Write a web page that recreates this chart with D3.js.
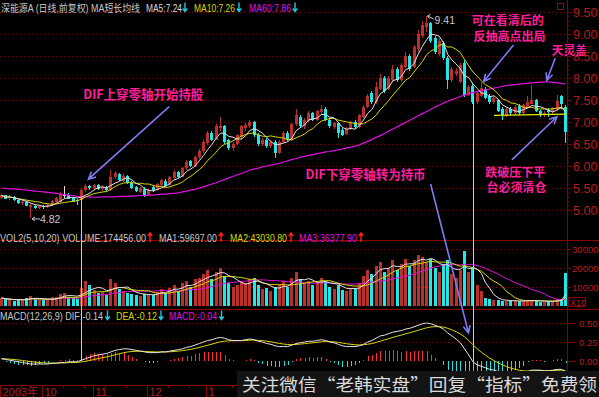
<!DOCTYPE html>
<html><head><meta charset="utf-8">
<script src="https://cdn.jsdelivr.net/npm/d3@7"></script>
<style>body{margin:0;background:#000;}svg{display:block;}</style>
</head><body>
<svg id="c" width="599" height="397"></svg>
<script>
// ---------------- DATA ----------------
const opens = [5.28,5.33,5.27,5.30,5.22,5.17,5.18,5.06,5.10,5.05,
5.09,5.06,5.12,5.19,5.18,5.33,5.35,5.27,5.22,5.22,
5.45,5.54,5.49,5.57,5.47,5.53,5.45,5.74,5.82,5.66,
5.78,5.62,5.52,5.41,5.48,5.35,5.52,5.45,5.56,5.67,
5.56,5.73,5.86,5.76,5.95,6.11,6.00,6.20,6.35,6.52,
6.76,6.60,6.86,6.90,6.58,6.40,6.50,6.66,6.86,6.90,
7.00,6.70,6.50,6.60,6.45,6.55,6.30,6.55,6.76,6.60,
6.95,7.12,6.90,7.02,7.20,7.05,7.22,7.30,7.05,6.88,
6.98,6.82,6.72,6.85,7.00,6.88,7.12,7.35,7.65,7.45,
7.75,8.00,7.75,7.95,8.20,7.95,8.25,8.50,8.25,8.65,
8.95,9.15,9.25,8.90,8.55,8.80,8.45,7.95,8.10,7.92,
8.35,7.62,7.82,7.45,7.60,7.76,7.60,7.45,7.50,7.30,
7.15,7.30,7.20,7.36,7.20,7.35,7.42,7.50,7.25,7.15,
7.28,7.22,7.30,7.58,7.35];
const highs = [5.36,5.35,5.33,5.32,5.25,5.22,5.20,5.13,5.12,5.11,
5.12,5.14,5.22,5.30,5.40,5.55,5.38,5.30,5.25,5.50,
5.60,5.57,5.60,5.59,5.56,5.55,5.90,5.88,5.85,5.82,
5.80,5.66,5.55,5.53,5.52,5.48,5.57,5.61,5.71,5.70,
5.78,5.90,5.89,5.98,6.14,6.13,6.23,6.38,6.58,6.80,
6.80,6.95,7.11,6.93,6.62,6.55,6.73,6.93,6.98,7.05,
7.02,6.74,6.64,6.64,6.58,6.58,6.58,6.80,6.79,6.98,
7.30,7.16,7.08,7.24,7.23,7.28,7.39,7.33,7.08,7.00,
7.01,6.86,6.88,7.03,7.04,7.18,7.39,7.64,7.70,7.92,
8.10,8.04,8.04,8.30,8.24,8.34,8.60,8.54,8.74,9.10,
9.30,9.41,9.28,8.95,8.90,8.84,8.50,8.25,8.22,8.34,
8.41,7.84,7.86,7.68,7.90,7.80,7.64,7.58,7.53,7.33,
7.33,7.34,7.38,7.40,7.42,7.60,7.85,7.53,7.28,7.26,
7.31,7.35,7.62,7.61,7.38];
const lows = [5.24,5.24,5.23,5.20,5.14,5.12,5.08,4.82,5.03,5.02,
5.03,5.04,5.10,5.16,5.15,5.28,5.24,5.19,5.12,5.14,
5.42,5.46,5.46,5.45,5.44,5.42,5.44,5.70,5.65,5.63,
5.60,5.48,5.40,5.38,5.30,5.33,5.42,5.43,5.53,5.52,
5.54,5.70,5.72,5.74,5.92,5.97,5.98,6.17,6.30,6.48,
6.56,6.58,6.80,6.50,6.36,6.35,6.47,6.62,6.80,6.86,
6.66,6.46,6.46,6.40,6.42,6.18,6.27,6.52,6.57,6.57,
6.92,6.86,6.84,7.00,7.02,7.02,7.18,7.02,6.86,6.84,
6.64,6.68,6.70,6.82,6.84,6.86,7.10,7.32,7.42,7.42,
7.72,7.66,7.72,7.92,7.90,7.92,8.22,8.15,8.22,8.60,
8.90,9.05,8.80,8.55,8.50,8.40,7.75,7.90,8.05,7.88,
7.57,7.58,7.40,7.42,7.56,7.52,7.42,7.42,7.22,7.05,
7.12,7.16,7.16,7.17,7.17,7.32,7.40,7.22,7.12,7.12,
7.12,7.18,7.26,7.30,6.52];
const closes = [5.33,5.26,5.30,5.22,5.16,5.19,5.10,5.11,5.05,5.09,
5.06,5.12,5.20,5.27,5.37,5.33,5.26,5.21,5.20,5.46,
5.55,5.50,5.57,5.48,5.53,5.45,5.76,5.83,5.68,5.78,
5.62,5.51,5.43,5.50,5.35,5.45,5.45,5.58,5.68,5.55,
5.75,5.86,5.75,5.95,6.10,6.00,6.20,6.35,6.55,6.76,
6.60,6.90,6.92,6.55,6.40,6.50,6.70,6.90,6.94,7.00,
6.70,6.50,6.60,6.45,6.55,6.30,6.55,6.76,6.60,6.95,
7.15,6.90,7.05,7.20,7.05,7.25,7.30,7.05,6.90,6.98,
6.75,6.70,6.85,7.00,6.88,7.15,7.35,7.60,7.45,7.80,
8.00,7.70,8.00,8.20,7.95,8.30,8.50,8.20,8.70,9.00,
9.20,9.25,8.85,8.60,8.85,8.45,7.95,8.20,8.15,8.30,
7.62,7.80,7.45,7.65,7.78,7.55,7.45,7.55,7.25,7.15,
7.30,7.20,7.35,7.20,7.38,7.45,7.50,7.25,7.15,7.20,
7.22,7.32,7.48,7.40,6.78];
const volumes = [42000,35000,30000,28000,33000,36000,40000,55000,38000,30000,29000,32000,45000,50000,62000,70000,48000,40000,38000,
95000,130000,110000,85000,70000,75000,60000,140000,120000,90000,80000,70000,65000,60000,55000,62000,58000,
60000,75000,90000,70000,95000,110000,80000,120000,130000,100000,140000,150000,170000,190000,140000,180000,200000,
160000,120000,100000,110000,130000,120000,140000,150000,110000,90000,95000,80000,100000,110000,130000,100000,150000,180000,
140000,120000,130000,110000,120000,150000,130000,100000,90000,110000,85000,80000,95000,90000,120000,160000,190000,170000,
210000,230000,180000,200000,240000,190000,220000,250000,210000,240000,270000,260000,230000,250000,200000,180000,220000,240000,
170000,150000,190000,290000,180000,200000,110000,80000,
40000,35000,30000,32000,28000,27000,26000,25000,27000,27250,
30000,32000,25000,22000,22823,
24000,28000,35000,37029,174456];
const ma60 = [5.50,5.49,5.48,5.48,5.47,5.46,5.45,5.44,5.43,5.42,
5.41,5.40,5.39,5.38,5.36,5.35,5.34,5.33,5.31,5.30,
5.30,5.30,5.29,5.29,5.30,5.30,5.30,5.30,5.31,5.31,
5.31,5.32,5.32,5.33,5.33,5.34,5.34,5.35,5.36,5.36,
5.37,5.38,5.39,5.41,5.43,5.45,5.47,5.50,5.53,5.56,
5.59,5.62,5.66,5.69,5.73,5.76,5.80,5.83,5.87,5.91,
5.93,5.95,5.98,6.00,6.02,6.04,6.06,6.09,6.12,6.15,
6.17,6.20,6.22,6.24,6.26,6.28,6.30,6.32,6.33,6.35,
6.37,6.39,6.41,6.43,6.45,6.48,6.52,6.56,6.60,6.65,
6.69,6.74,6.79,6.84,6.89,6.94,6.99,7.04,7.09,7.14,
7.19,7.24,7.29,7.34,7.38,7.43,7.47,7.51,7.54,7.58,
7.61,7.64,7.67,7.69,7.71,7.73,7.75,7.77,7.79,7.81,
7.83,7.84,7.85,7.86,7.87,7.88,7.89,7.90,7.90,7.91,
7.91,7.90,7.89,7.88,7.86];
const dif = [0.03,0.02,0.01,0.00,-0.01,-0.02,-0.03,-0.04,-0.04,-0.04,
-0.04,-0.04,-0.03,-0.03,-0.02,-0.02,-0.01,-0.01,-0.01,0.01,
0.03,0.05,0.07,0.08,0.09,0.10,0.12,0.14,0.15,0.16,
0.16,0.15,0.14,0.13,0.12,0.11,0.11,0.11,0.12,0.12,
0.13,0.14,0.15,0.16,0.18,0.19,0.21,0.23,0.25,0.27,
0.28,0.30,0.31,0.30,0.28,0.27,0.27,0.27,0.28,0.29,
0.28,0.26,0.25,0.23,0.22,0.20,0.19,0.19,0.19,0.21,
0.23,0.24,0.25,0.26,0.26,0.27,0.28,0.27,0.25,0.24,
0.22,0.20,0.19,0.19,0.19,0.20,0.22,0.25,0.27,0.30,
0.33,0.34,0.36,0.38,0.39,0.40,0.42,0.43,0.45,0.47,
0.49,0.50,0.49,0.47,0.45,0.42,0.37,0.33,0.29,0.24,
0.16,0.08,-0.01,-0.05,-0.07,-0.09,-0.11,-0.12,-0.14,-0.16,
-0.17,-0.17,-0.17,-0.17,-0.16,-0.14,-0.12,-0.12,-0.12,-0.13,
-0.13,-0.12,-0.11,-0.11,-0.14];
const priceTicks = [5.00,5.50,6.00,6.50,7.00,7.50,8.00,8.50,9.00,9.50];
const volTicks = [10000,20000,30000];
const macdTicks = [0.00,0.25,0.50];
const monthLabels = ["2003年","10","11","12","1"];
const monthStarts = [0,10,22,35,49];
const peakLabel = {i:101, p:9.41, text:"9.41"};
const lowLabel = {i:7, p:4.82, text:"4.82"};
const crossLines = [{i:19, topP:5.27}, {i:112, topP:7.58}];
const supportLine = {i0:117, p0:7.15, i1:134.6, p1:7.18};

// ---------------- LAYOUT ----------------
const W = 599, H = 397, AX = 567;
const RED_AX = "#8a0000", RED_TXT = "#b81c1c";
const UP = "#bc302c", DOWN = "#20e8e8";
const C_MA5 = "#e4e4e4", C_MA10 = "#d8d800", C_MA60 = "#e010e0";
const FONT = "'Liberation Sans', Arial, 'Noto Sans CJK SC', sans-serif";
const CJK = "'Noto Sans CJK SC', 'Liberation Sans', sans-serif";
const N = closes.length;

const svg = d3.select("#c");
svg.append("rect").attr("width", W).attr("height", H).attr("fill", "#000");

const x = d3.scaleBand().domain(d3.range(N)).range([0, AX]).paddingInner(0.3).paddingOuter(0);
const bw = x.bandwidth();
const cx = i => x(i) + bw / 2;
const xf = t => x(0) + x.step() * t + bw / 2;
const yP = d3.scaleLinear().domain([5, 9.5]).range([210, 12]);
const yV = d3.scaleLinear().domain([0, 30000]).range([306, 249]);
const yM = d3.scaleLinear().domain([0, 0.5]).range([361, 323]);

const data = d3.range(N).map(i => ({i, o: opens[i], h: highs[i], l: lows[i], c: closes[i], v: volumes[i]}));
const colorOf = d => d.c > d.o ? UP : (d.c < d.o ? DOWN : "#e0e0e0");

function sma(arr, n) {
  return arr.map((_, i) => d3.mean(arr.slice(Math.max(0, i - n + 1), i + 1)));
}
const ma5 = sma(closes, 5), ma10 = sma(closes, 10);
const vma5 = sma(volumes, 5), vma10 = sma(volumes, 10), vma20 = sma(volumes, 20);
const dea = [];
dif.forEach((d, i) => dea.push(i === 0 ? d : dea[i - 1] * 0.8 + d * 0.2));
const hist = dif.map((d, i) => 2 * (d - dea[i]));

// ---------------- GRID ----------------
const grid = svg.append("g").attr("stroke", "#7a0000").attr("stroke-dasharray", "1,3").attr("shape-rendering", "crispEdges");
priceTicks.forEach(t => grid.append("line").attr("x1", 0).attr("x2", AX).attr("y1", Math.round(yP(t)) + 0.5).attr("y2", Math.round(yP(t)) + 0.5));
volTicks.forEach(t => grid.append("line").attr("x1", 0).attr("x2", AX).attr("y1", Math.round(yV(t)) + 0.5).attr("y2", Math.round(yV(t)) + 0.5));
macdTicks.filter(t => t > 0).forEach(t => grid.append("line").attr("x1", 0).attr("x2", AX).attr("y1", Math.round(yM(t)) + 0.5).attr("y2", Math.round(yM(t)) + 0.5));

const sep = svg.append("g").attr("stroke", RED_AX).attr("shape-rendering", "crispEdges");
sep.append("line").attr("x1", 0).attr("x2", W).attr("y1", 240.5).attr("y2", 240.5);
sep.append("line").attr("x1", 0).attr("x2", W).attr("y1", 309.5).attr("y2", 309.5);

// ---------------- CANDLES ----------------
const cg = svg.append("g").attr("shape-rendering", "crispEdges");
cg.selectAll("line.w").data(data).join("line")
  .attr("x1", d => Math.round(x(d.i)) + 1.5).attr("x2", d => Math.round(x(d.i)) + 1.5)
  .attr("y1", d => yP(d.h)).attr("y2", d => yP(d.l)).attr("stroke", colorOf);
cg.selectAll("rect.b").data(data).join("rect")
  .attr("x", d => Math.round(x(d.i))).attr("width", 3)
  .attr("y", d => yP(Math.max(d.o, d.c)))
  .attr("height", d => Math.max(1, Math.abs(yP(d.o) - yP(d.c))))
  .attr("fill", colorOf);

const lineP = d3.line().x((d, i) => cx(i)).y(d => yP(d));
svg.append("path").attr("d", lineP(ma60)).attr("fill", "none").attr("stroke", C_MA60).attr("stroke-width", 1.2);
svg.append("path").attr("d", lineP(ma10)).attr("fill", "none").attr("stroke", C_MA10).attr("stroke-width", 1);
svg.append("path").attr("d", lineP(ma5)).attr("fill", "none").attr("stroke", C_MA5).attr("stroke-width", 1);

// ---------------- VOLUME ----------------
const vg = svg.append("g").attr("shape-rendering", "crispEdges");
vg.selectAll("rect").data(data).join("rect")
  .attr("x", d => Math.round(x(d.i))).attr("width", 3)
  .attr("y", d => yV(d.v / 10)).attr("height", d => yV(0) - yV(d.v / 10))
  .attr("fill", d => d.c >= d.o ? UP : DOWN);
const lineV = d3.line().x((d, i) => cx(i)).y(d => yV(d / 10));
svg.append("path").attr("d", lineV(vma20)).attr("fill", "none").attr("stroke", C_MA60);
svg.append("path").attr("d", lineV(vma10)).attr("fill", "none").attr("stroke", C_MA10);
svg.append("path").attr("d", lineV(vma5)).attr("fill", "none").attr("stroke", C_MA5);

// ---------------- MACD ----------------
const mg = svg.append("g").attr("shape-rendering", "crispEdges");
mg.selectAll("line").data(hist).join("line")
  .attr("x1", (d, i) => Math.round(cx(i)) + 0.5).attr("x2", (d, i) => Math.round(cx(i)) + 0.5)
  .attr("y1", yM(0)).attr("y2", d => yM(d))
  .attr("stroke", d => d >= 0 ? "#ff3030" : "#20e0e0");
const lineM = d3.line().x((d, i) => cx(i)).y(d => yM(d));
svg.append("path").attr("d", lineM(dea)).attr("fill", "none").attr("stroke", C_MA10);
svg.append("path").attr("d", lineM(dif)).attr("fill", "none").attr("stroke", C_MA5);

// ---------------- ANNOTATIONS ----------------
crossLines.forEach(c => {
  svg.append("line").attr("x1", Math.round(cx(c.i)) + 0.5).attr("x2", Math.round(cx(c.i)) + 0.5)
    .attr("y1", yP(c.topP)).attr("y2", yM(0)).attr("stroke", "#e8e800").attr("stroke-width", 1);
});
svg.append("line").attr("x1", xf(supportLine.i0)).attr("x2", xf(supportLine.i1))
  .attr("y1", yP(supportLine.p0)).attr("y2", yP(supportLine.p1)).attr("stroke", "#e8e800").attr("stroke-width", 1.2);

{
  const px = cx(peakLabel.i), py = yP(peakLabel.p);
  svg.append("path").attr("d", `M${px + 7},${py + 3} L${px + 1},${py} M${px + 1},${py} l3,-1.5 M${px + 1},${py} l2,2.5`)
    .attr("stroke", "#c8c8c8").attr("fill", "none");
  svg.append("text").attr("x", px + 8).attr("y", py + 8).text(peakLabel.text)
    .attr("fill", "#c8c8c8").attr("font-size", 10.5).attr("font-family", FONT);
  const lx = cx(lowLabel.i), ly = yP(lowLabel.p) + 1;
  svg.append("path").attr("d", `M${lx + 9},${ly} L${lx + 1},${ly} M${lx + 1},${ly} l3,-2 M${lx + 1},${ly} l3,2`)
    .attr("stroke", "#c8c8c8").attr("fill", "none");
  svg.append("text").attr("x", lx + 9).attr("y", ly + 4.5).text(lowLabel.text)
    .attr("fill", "#c8c8c8").attr("font-size", 10.5).attr("font-family", FONT);
}

const notes = [
  {text: "DIF上穿零轴开始持股", i: 19.8, p: 7.52, w: 120, fs: 13},
  {text: "DIF下穿零轴转为持币", i: 72.6, p: 5.70, w: 120, fs: 13},
  {text: "可在看清后的", i: 112.1, p: 9.20, w: 72, fs: 12},
  {text: "反抽高点出局", i: 112.5, p: 8.84, w: 72, fs: 12},
  {text: "天灵盖", i: 131.1, p: 8.53, w: 35, fs: 12},
  {text: "跌破压下平", i: 115.3, p: 5.76, w: 60, fs: 12},
  {text: "台必须清仓", i: 115.6, p: 5.40, w: 60, fs: 12}
];
notes.forEach(n => {
  svg.append("text").attr("x", xf(n.i) - bw / 2).attr("y", yP(n.p)).text(n.text)
    .attr("fill", "#ff1f9a").attr("font-size", n.fs).attr("font-weight", "bold").attr("font-family", CJK)
    .attr("textLength", n.w).attr("lengthAdjust", "spacingAndGlyphs");
});

const arrows = [
  {from: {i: 40.2, p: 7.35}, to: {i: 21.0, p: 5.70}},
  {from: {i: 102.3, p: 5.59}, to: {i: 111.3, m: 0.37}},
  {from: {i: 122.0, p: 8.75}, to: {i: 114.9, p: 7.92}},
  {from: {i: 131.9, p: 8.45}, to: {i: 129.9, p: 7.95}},
  {from: {i: 121.6, p: 6.14}, to: {i: 132.3, p: 7.12}}
];
const pt = d => [xf(d.i) - bw / 2, d.p != null ? yP(d.p) : yM(d.m)];
arrows.forEach(a => {
  const [x1, y1] = pt(a.from), [x2, y2] = pt(a.to);
  const ang = Math.atan2(y2 - y1, x2 - x1), L = 8, s = 0.45;
  svg.append("path")
    .attr("d", `M${x1},${y1} L${x2},${y2} M${x2 - L * Math.cos(ang - s)},${y2 - L * Math.sin(ang - s)} L${x2},${y2} L${x2 - L * Math.cos(ang + s)},${y2 - L * Math.sin(ang + s)}`)
    .attr("stroke", "#7c7cf4").attr("stroke-width", 1.6).attr("fill", "none");
});

// ---------------- AXES ----------------
svg.append("line").attr("x1", AX + 0.5).attr("x2", AX + 0.5).attr("y1", 0).attr("y2", H).attr("stroke", RED_AX);
function styleAxis(g, size) {
  g.select(".domain").remove();
  g.selectAll(".tick line").attr("stroke", RED_AX);
  g.selectAll(".tick text").attr("fill", RED_TXT).attr("font-size", size).attr("font-family", FONT);
}
const minorTicks = d3.range(50, 96).map(v => v / 10).filter(v => Math.abs(v * 2 - Math.round(v * 2)) > 0.01);
svg.append("g").attr("transform", `translate(${AX},0)`)
  .call(d3.axisRight(yP).tickValues(minorTicks).tickSize(2).tickFormat(""))
  .call(g => styleAxis(g, 0));
svg.append("g").attr("transform", `translate(${AX},0)`)
  .call(d3.axisRight(yP).tickValues(priceTicks).tickSize(4).tickPadding(2).tickFormat(d3.format(".2f")))
  .call(g => styleAxis(g, "12.5px"));
svg.append("g").attr("transform", `translate(${AX},0)`)
  .call(d3.axisRight(yV).tickValues(volTicks).tickSize(4).tickPadding(1).tickFormat(d3.format("d")))
  .call(g => styleAxis(g, "9.6px"));
svg.append("g").attr("transform", `translate(${AX},0)`)
  .call(d3.axisRight(yM).tickValues(macdTicks).tickSize(8).tickPadding(4).tickFormat(d3.format(".2f")))
  .call(g => styleAxis(g, "9.6px"));
svg.append("rect").attr("x", 568.5).attr("y", 297.5).attr("width", 17).attr("height", 9)
  .attr("fill", "none").attr("stroke", RED_AX);
svg.append("text").attr("x", 570).attr("y", 305.5).text("X10").attr("fill", RED_TXT)
  .attr("font-size", 9).attr("font-family", FONT);
svg.append("rect").attr("x", 557.5).attr("y", 3.5).attr("width", 6).attr("height", 6)
  .attr("fill", "none").attr("stroke", "#7a1010");

const bg = svg.append("g").attr("shape-rendering", "crispEdges");
bg.append("line").attr("x1", 0).attr("x2", AX).attr("y1", 385.5).attr("y2", 385.5).attr("stroke", RED_AX);
d3.range(0, N, 5).forEach(i => bg.append("line").attr("x1", Math.round(x(i)) + 0.5).attr("x2", Math.round(x(i)) + 0.5)
  .attr("y1", 385).attr("y2", 388).attr("stroke", RED_AX));
monthStarts.forEach((s, k) => {
  const xx = Math.round(x(s)) + 0.5;
  bg.append("line").attr("x1", xx).attr("x2", xx).attr("y1", 385).attr("y2", H).attr("stroke", RED_AX);
  svg.append("text").attr("x", xx + 2).attr("y", 395.5).text(monthLabels[k])
    .attr("fill", RED_TXT).attr("font-size", 11).attr("font-family", FONT);
});

// ---------------- HEADERS ----------------
function hArrow(xx, yTop, dir, color) {
  const y1 = yTop, y2 = yTop + 9;
  const head = dir === "down" ? `M${xx - 2.2},${y2 - 3} L${xx},${y2} L${xx + 2.2},${y2 - 3}` : `M${xx - 2.2},${y1 + 3} L${xx},${y1} L${xx + 2.2},${y1 + 3}`;
  svg.append("path").attr("d", `M${xx},${y1} L${xx},${y2} ${head}`).attr("stroke", color).attr("stroke-width", 1.4).attr("fill", "none");
}
const headers = [
  {y: 11.5, items: [
    {s: "深能源A (日线,前复权) MA短长均线", c: "#c8c8c8", x: 1, w: 139},
    {s: "MA5:7.24", c: "#d8d8d8", x: 146, w: 36, a: "down", ax: 185},
    {s: "MA10:7.26", c: C_MA10, x: 194, w: 41, a: "down", ax: 239},
    {s: "MA60:7.86", c: C_MA60, x: 249, w: 42, a: "down", ax: 295}]},
  {y: 242, items: [
    {s: "VOL2(5,10,20) VOLUME:174456.00", c: "#c8c8c8", x: 0, w: 146, a: "up", ax: 150},
    {s: "MA1:59697.00", c: "#c8c8c8", x: 159, w: 58, a: "up", ax: 221},
    {s: "MA2:43030.80", c: C_MA10, x: 230, w: 57, a: "up", ax: 291},
    {s: "MA3:36377.90", c: C_MA60, x: 299, w: 58, a: "up", ax: 361}]},
  {y: 319.5, items: [
    {s: "MACD(12,26,9) DIF:-0.14", c: "#c8c8c8", x: 0, w: 103, a: "down", ax: 107.5},
    {s: "DEA:-0.12", c: C_MA10, x: 116, w: 41, a: "down", ax: 161},
    {s: "MACD:-0.04", c: C_MA60, x: 169, w: 48, a: "down", ax: 221.5}]}
];
headers.forEach(h => h.items.forEach(it => {
  svg.append("text").attr("x", it.x).attr("y", h.y).text(it.s).attr("fill", it.c)
    .attr("font-size", 10).attr("font-family", FONT)
    .attr("textLength", it.w).attr("lengthAdjust", "spacingAndGlyphs");
  if (it.a) hArrow(it.ax, h.y - 9, it.a, it.a === "up" ? "#ff2020" : "#1ec8e6");
}));

// ---------------- WATERMARK ----------------
svg.append("rect").attr("x", 237).attr("y", 371).attr("width", W - 237).attr("height", H - 371).attr("fill", "#141414");
svg.append("text").attr("x", 242).attr("y", 390.5).text("关注微信“老韩实盘”回复“指标”免费领")
  .attr("fill", "#dadada").attr("font-size", 17.5).attr("font-family", CJK)
  .attr("textLength", 355).attr("lengthAdjust", "spacingAndGlyphs");
</script>
</body></html>
